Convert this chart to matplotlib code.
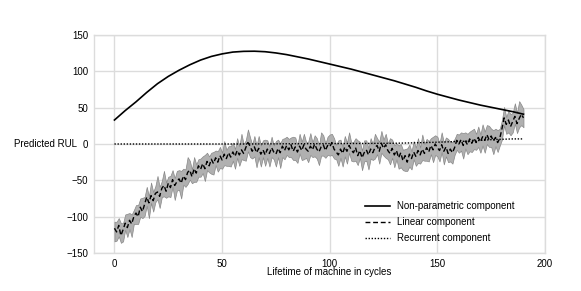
import numpy as np
import matplotlib
matplotlib.use("Agg")
import matplotlib.pyplot as plt

# ---------------- data ----------------
np_cycles = [0, 2.5, 5, 7.5, 10, 12.5, 15, 17.5, 20, 25, 30, 35, 40, 45, 50, 55, 60, 65, 70, 75, 80, 85, 90, 95,
             100, 105, 110, 115, 120, 125, 130, 135, 140, 145, 150, 155, 160, 165, 170, 175,
             180, 185, 190]
np_values = [33, 39.5, 46, 52, 58, 64.5, 71, 77, 83, 93, 101.5, 109, 115.5, 120.5, 124, 126.5, 127.5, 127.7, 127,
             125.3, 123, 120, 117, 113.5, 110, 106.5, 103, 99, 95, 91, 87, 82.5, 78, 73, 68.5,
             64.5, 60.5, 57, 53.5, 50.5, 47.5, 44.5, 41]

linear_values = [
    -116, -121, -112, -126, -118, -109, -115, -105, -110, -100,
    -95, -100, -87, -93, -83, -73, -81, -71, -78, -68,
    -66, -72, -61, -57, -65, -54, -60, -49, -57, -52,
    -48, -54, -44, -49, -39, -36, -45, -34, -40, -30,
    -35, -27, -34, -24, -30, -21, -27, -19, -25, -16,
    -22, -14, -20, -12, -18, -11, -17, -9, -15, -8,
    -13, -5, 2, -3, -10, -4, -12, -6, -14, -8,
    -15, -7, -13, -5, -11, -14, -6, -12, -3, -9,
    -2, -8, -1, -10, -4, -11, -3, -9, -1, -7,
    -10, -3, -8, 0, -7, -11, -4, -1, -9, -2,
    -4, 2, -7, -11, -15, -7, -13, -4, -10, -2,
    -8, -12, -5, -16, -9, -19, -12, -8, -15, -7,
    -12, -5, -2, -10, 1, -6, -1, -9, -13, -6,
    -15, -9, -19, -12, -23, -16, -25, -14, -20, -11,
    -17, -9, -15, -7, -13, -5, -11, -2, -8, 0,
    -5, -9, -1, -10, -4, -13, -7, -12, -5, 5,
    0, 6, -2, 4, -1, 7, 1, 8, 2, 9,
    3, 10, 5, 13, 6, 11, 4, 9, 2, 8,
    21, 36, 27, 33, 24, 31, 38, 28, 35, 41,
    36]

band_up = [
    9, 14, 10, 17, 9, 12, 19, 10, 13, 9,
    11, 16, 12, 19, 10, 14, 9, 18, 12, 10,
    22, 13, 10, 20, 12, 9, 16, 13, 10, 15,
    12, 17, 10, 14, 21, 13, 10, 16, 12, 9,
    15, 10, 19, 12, 13, 9, 16, 10, 15, 12,
    10, 18, 12, 9, 15, 13, 10, 17, 12, 22,
    13, 10, 18, 12, 9, 15, 10, 17, 12, 13,
    21, 12, 10, 15, 9, 18, 12, 13, 10, 17,
    12, 15, 10, 20, 13, 9, 17, 12, 15, 10,
    13, 18, 10, 12, 15, 9, 20, 13, 10, 12,
    17, 12, 15, 10, 20, 13, 9, 15, 12, 18,
    10, 15, 13, 21, 12, 10, 17, 13, 9, 15,
    12, 19, 10, 13, 17, 12, 15, 10, 21, 12,
    13, 10, 17, 12, 15, 9, 19, 13, 10, 15,
    12, 17, 10, 20, 13, 12, 15, 10, 18, 12,
    15, 10, 17, 12, 13, 20, 10, 15, 12, 9,
    13, 10, 17, 12, 15, 10, 18, 13, 12, 15,
    10, 17, 12, 13, 19, 10, 15, 12, 17, 13,
    12, 15, 10, 13, 17, 12, 18, 15, 24, 13,
    12]

band_down = [
    18, 12, 15, 10, 16, 9, 13, 12, 18, 10,
    15, 10, 13, 9, 16, 12, 21, 10, 15, 12,
    10, 16, 12, 15, 9, 18, 13, 10, 20, 12,
    15, 21, 12, 10, 16, 13, 9, 18, 12, 15,
    10, 13, 17, 12, 9, 20, 15, 10, 13, 17,
    12, 15, 10, 18, 13, 12, 17, 10, 15, 13,
    9, 18, 12, 15, 10, 13, 20, 12, 17, 10,
    15, 12, 18, 13, 10, 17, 12, 21, 15, 12,
    13, 10, 17, 12, 18, 15, 10, 13, 20, 12,
    15, 12, 10, 17, 13, 18, 12, 15, 10, 13,
    12, 17, 13, 10, 15, 12, 18, 13, 17, 10,
    15, 12, 18, 13, 10, 17, 12, 15, 20, 13,
    10, 15, 12, 17, 13, 10, 18, 12, 15, 13,
    17, 12, 15, 20, 13, 21, 12, 17, 15, 10,
    13, 17, 12, 15, 10, 18, 13, 12, 17, 15,
    12, 15, 10, 18, 13, 12, 17, 15, 10, 13,
    12, 15, 18, 10, 13, 17, 12, 15, 10, 13,
    15, 12, 17, 13, 10, 15, 18, 12, 13, 10,
    15, 10, 13, 17, 12, 15, 10, 13, 12, 15,
    13]

rec_cycles = [0, 20, 40, 60, 80, 100, 130, 145, 155, 165, 175, 185, 190]
rec_values = [0, 0, 0, 0, 0.3, 0.5, 1, 2, 3, 4, 6, 7, 7]

x_ticks = [0, 50, 100, 150, 200]
y_ticks = [-150, -100, -50, 0, 50, 100, 150]

# ---------------- plot ----------------
plt.rcParams['font.family'] = ['Liberation Sans', 'DejaVu Sans']
plt.rcParams['axes.unicode_minus'] = True

fig = plt.figure(figsize=(5.81, 2.91), dpi=100)
ax = fig.add_axes([94 / 581, 1 - 253 / 291, (545 - 94) / 581, (253 - 35) / 291])

cycles = np.arange(len(linear_values))
lin = np.array(linear_values, dtype=float)
lo = lin - np.array(band_down, dtype=float)
hi = lin + np.array(band_up, dtype=float)

ax.fill_between(cycles, lo, hi, facecolor='#b0b0b0', edgecolor='#888888', linewidth=0.5, zorder=2)
ax.plot(np_cycles, np_values, color='black', linewidth=1.2, label='Non-parametric component', zorder=4)
ax.plot(cycles, lin, color='black', linestyle=(0, (3.5, 2)), linewidth=1.0, label='Linear component', zorder=3)
ax.plot(rec_cycles, rec_values, color='black', linestyle=(0, (1, 1.2)), linewidth=1.0,
        label='Recurrent component', zorder=3)

ax.set_xlim(-9.5, 200)
ax.set_ylim(-150, 150)
ax.set_xticks(x_ticks)
ax.set_yticks(y_ticks)
ax.grid(True, color='#dcdcdc', linewidth=1.0)
ax.set_axisbelow(True)
for s in ax.spines.values():
    s.set_color('#dcdcdc')
    s.set_linewidth(1.0)
ax.tick_params(axis='both', length=0, labelsize=7, pad=4, colors='black')

ax.set_xlabel('Lifetime of machine in cycles', fontsize=7)
ax.xaxis.set_label_coords(0.521, -0.065)
ax.set_ylabel('Predicted RUL', fontsize=7, rotation=0, ha='right', va='center')
ax.yaxis.set_label_coords(-0.038, 0.5)

leg = ax.legend(loc='lower left', bbox_to_anchor=(0.582, 0.005), frameon=False, fontsize=7,
                handlelength=2.5, handletextpad=0.8, labelspacing=0.62)

fig.savefig('out.png', dpi=100)
